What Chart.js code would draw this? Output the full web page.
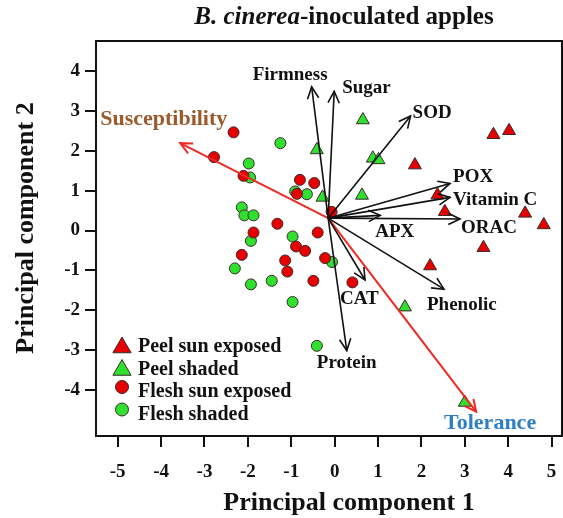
<!DOCTYPE html>
<html>
<head>
<meta charset="utf-8">
<script src="https://cdn.jsdelivr.net/npm/chart.js@4.4.0/dist/chart.umd.min.js"></script>
<style>
  html, body { margin: 0; padding: 0; background: #fff; }
  #wrap { width: 563px; height: 518px; }
</style>
</head>
<body>
<div id="wrap"><canvas id="pca" width="563" height="518"></canvas></div>
<script>
// PCA scores as [PC1, PC2]
const peelSunExposed = [
  [3.66, 2.40], [4.02, 2.50], [1.85, 1.64], [2.37, 0.89], [2.54, 0.47],
  [4.39, 0.43], [4.82, 0.14], [3.43, -0.43], [2.20, -0.89]
];
const peelShaded = [
  [0.65, 2.77], [0.88, 1.81], [1.01, 1.77], [0.63, 0.88], [-0.41, 2.02],
  [-0.28, 0.83], [1.62, -1.92], [3.00, -4.31]
];
const fleshSunExposed = [
  [-2.33, 2.46], [-2.78, 1.84], [-2.10, 1.37], [-0.80, 1.27], [-0.47, 1.19],
  [-0.87, 0.92], [-0.07, 0.47], [-1.32, 0.17], [-1.87, -0.05], [-0.39, -0.05],
  [-0.89, -0.40], [-0.68, -0.51], [-2.14, -0.61], [-0.22, -0.69], [-1.14, -0.75],
  [-1.09, -1.03], [-0.49, -1.26], [0.41, -1.30]
];
const fleshShaded = [
  [-1.25, 2.19], [-1.98, 1.68], [-1.95, 1.33], [-0.91, 0.98], [-0.64, 0.91],
  [-2.14, 0.58], [-2.08, 0.38], [-1.87, 0.38], [-1.93, -0.26], [-0.97, -0.15],
  [-0.06, -0.79], [-2.30, -0.95], [-1.45, -1.26], [-1.93, -1.35], [-0.97, -1.79],
  [-0.41, -2.89]
];

// loading vectors
const arrowNames = ['Firmness', 'Sugar', 'SOD', 'POX', 'Vitamin C', 'ORAC', 'APX', 'CAT', 'Phenolic', 'Protein', 'Susceptibility', 'Tolerance'];
const arrowX = [-0.53, -0.01, 1.75, 2.66, 2.66, 2.89, 1.05, 0.70, 2.52, 0.28, -3.56, 3.26];
const arrowY = [3.60, 3.49, 2.87, 1.18, 0.83, 0.29, 0.38, -1.24, -1.47, -3.01, 2.19, -4.54];
const arrowOrigin = [-0.15, 0.31];

const xTicks = [-5, -4, -3, -2, -1, 0, 1, 2, 3, 4, 5];
const yTicks = [-4, -3, -2, -1, 0, 1, 2, 3, 4];
const seriesNames = ['Peel sun exposed', 'Peel shaded', 'Flesh sun exposed', 'Flesh shaded'];

// styling
const SERIF = "'Times New Roman', 'Liberation Serif', serif";
const RED = '#e60000';
const GREEN = '#2fe02f';
const EDGE = '#3a2a2a';
const ARROW_RED = '#ee2a22';
// label placement in pixels relative to arrow tip: [dx, dy, color, size]
const labelStyle = [
  [-59, -12, '#111', 19], [8, -3, '#111', 19], [2, -3, '#111', 19], [3, -6, '#111', 19],
  [3, 3, '#111', 19], [1, 9, '#111', 19], [-5, 17, '#111', 19], [-25, 19, '#111', 19],
  [-17, 16, '#111', 19], [-30, 12, '#111', 19], [-80, -24, '#9b5a2b', 22], [-32, 12, '#2f7fc8', 22]
];

const toXY = arr => arr.map(p => ({ x: p[0], y: p[1] }));

const pointSets = [
  { label: seriesNames[0], data: toXY(peelSunExposed), pointStyle: 'triangle', pointRadius: 7.5, backgroundColor: RED },
  { label: seriesNames[1], data: toXY(peelShaded), pointStyle: 'triangle', pointRadius: 7.5, backgroundColor: GREEN },
  { label: seriesNames[2], data: toXY(fleshSunExposed), pointStyle: 'circle', pointRadius: 5.5, backgroundColor: RED },
  { label: seriesNames[3], data: toXY(fleshShaded), pointStyle: 'circle', pointRadius: 5.5, backgroundColor: GREEN }
].map(d => Object.assign(d, {
  type: 'scatter', borderColor: EDGE, borderWidth: 1, order: 2, pointHoverRadius: d.pointRadius
}));

const arrowSets = arrowNames.map((name, i) => ({
  type: 'line',
  label: name,
  data: [{ x: arrowOrigin[0], y: arrowOrigin[1] }, { x: arrowX[i], y: arrowY[i] }],
  borderColor: i >= 10 ? ARROW_RED : '#111',
  borderWidth: i >= 10 ? 2 : 1.6,
  pointRadius: 0,
  fill: false,
  order: 1
}));

const pcaDecor = {
  id: 'pcaDecor',
  afterDatasetsDraw(chart) {
    const ctx = chart.ctx;
    ctx.save();
    arrowSets.forEach((ds, k) => {
      const meta = chart.getDatasetMeta(pointSets.length + k);
      const a = meta.data[0], b = meta.data[1];
      const ang = Math.atan2(b.y - a.y, b.x - a.x);
      const len = 13, spread = 0.45;
      ctx.strokeStyle = ds.borderColor;
      ctx.lineWidth = ds.borderWidth;
      ctx.beginPath();
      ctx.moveTo(b.x - len * Math.cos(ang - spread), b.y - len * Math.sin(ang - spread));
      ctx.lineTo(b.x, b.y);
      ctx.lineTo(b.x - len * Math.cos(ang + spread), b.y - len * Math.sin(ang + spread));
      ctx.stroke();
    });
    ctx.restore();
  },
  afterDraw(chart) {
    const ctx = chart.ctx;
    const area = chart.chartArea;
    ctx.save();

    // frame
    ctx.strokeStyle = '#111';
    ctx.lineWidth = 2;
    ctx.strokeRect(area.left, area.top, area.right - area.left, area.bottom - area.top);

    // arrow labels
    ctx.textBaseline = 'middle';
    ctx.textAlign = 'left';
    arrowNames.forEach((name, k) => {
      const tip = chart.getDatasetMeta(pointSets.length + k).data[1];
      const s = labelStyle[k];
      ctx.font = 'bold ' + s[3] + 'px ' + SERIF;
      ctx.fillStyle = s[2];
      ctx.fillText(name, tip.x + s[0], tip.y + s[1]);
    });

    // legend
    const rows = [345, 367.5, 390, 412.5];
    ctx.font = 'bold 20px ' + SERIF;
    ctx.textBaseline = 'alphabetic';
    pointSets.forEach((ds, k) => {
      const tri = ds.pointStyle === 'triangle';
      const my = tri ? rows[k] + 2.5 : rows[k] - 3;
      ctx.fillStyle = ds.backgroundColor;
      ctx.strokeStyle = EDGE;
      ctx.lineWidth = 1;
      Chart.helpers.drawPoint(ctx, { pointStyle: ds.pointStyle, radius: tri ? 10.5 : 6.5, rotation: 0, borderWidth: 1 }, 122, my);
      ctx.fillStyle = '#111';
      ctx.fillText(ds.label, 138, rows[k] + 7);
    });

    // chart title: italic species name + bold rest
    const p1 = 'B. cinerea', p2 = '-inoculated apples';
    ctx.font = 'italic bold 25px ' + SERIF;
    const w1 = ctx.measureText(p1).width;
    ctx.font = 'bold 25px ' + SERIF;
    const w2 = ctx.measureText(p2).width;
    let tx = 344 - (w1 + w2) / 2;
    ctx.fillStyle = '#111';
    ctx.font = 'italic bold 25px ' + SERIF;
    ctx.fillText(p1, tx, 24);
    ctx.font = 'bold 25px ' + SERIF;
    ctx.fillText(p2, tx + w1, 24);

    // axis titles
    ctx.textAlign = 'center';
    ctx.font = 'bold 26px ' + SERIF;
    ctx.fillText('Principal component 1', 349, 510);
    ctx.translate(33, 228);
    ctx.rotate(-Math.PI / 2);
    ctx.fillText('Principal component 2', 0, 0);
    ctx.restore();
  }
};

new Chart(document.getElementById('pca'), {
  data: { datasets: pointSets.concat(arrowSets) },
  options: {
    responsive: false,
    animation: false,
    layout: { autoPadding: false, padding: { top: 41, right: 1, bottom: 0, left: 0 } },
    plugins: { legend: { display: false }, tooltip: { enabled: false }, title: { display: false } },
    scales: {
      x: {
        type: 'linear',
        min: -5.5,
        max: 5.24,
        afterBuildTicks: s => { s.ticks = xTicks.map(v => ({ value: v })); },
        afterFit: s => { s.height = 82; s.paddingLeft = 0; s.paddingRight = 0; },
        border: { display: false },
        grid: { drawOnChartArea: false, drawTicks: true, tickLength: 11, color: '#111', lineWidth: 2 },
        ticks: { color: '#111', padding: 14, font: { family: SERIF, size: 19, weight: 'bold' }, maxRotation: 0 }
      },
      y: {
        type: 'linear',
        min: -5.15,
        max: 4.75,
        afterBuildTicks: s => { s.ticks = yTicks.map(v => ({ value: v })); },
        afterFit: s => { s.width = 96; s.paddingTop = 0; s.paddingBottom = 0; },
        border: { display: false },
        grid: { drawOnChartArea: false, drawTicks: true, tickLength: 11, color: '#111', lineWidth: 2 },
        ticks: { color: '#111', padding: 5, font: { family: SERIF, size: 19, weight: 'bold' } }
      }
    }
  },
  plugins: [pcaDecor]
});
</script>
</body>
</html>
